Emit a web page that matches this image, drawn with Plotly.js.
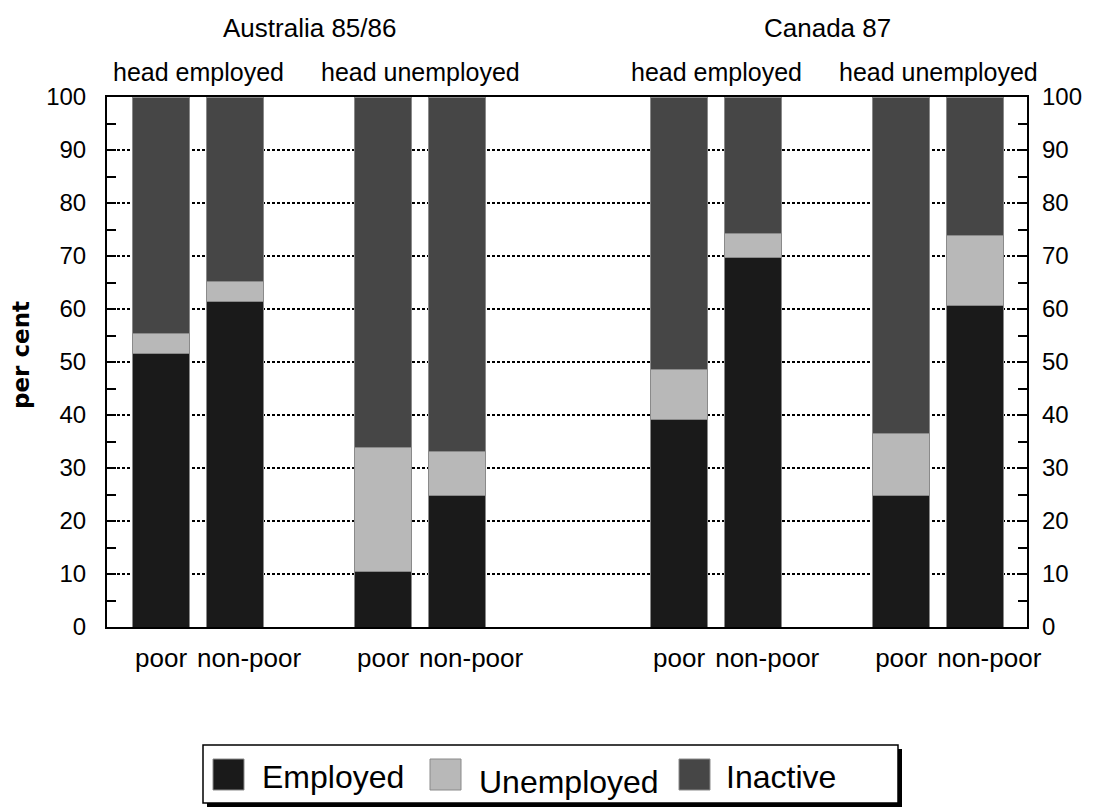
<!DOCTYPE html>
<html>
<head>
<meta charset="utf-8">
<script src="https://cdn.plot.ly/plotly-3.0.1.min.js"></script>
<style>html,body{margin:0;padding:0;background:#fff;}#chart{width:1094px;height:809px;}</style>
</head>
<body>
<div id="chart"></div>
<script>
// ---- data ----
const countries = ["Australia 85/86", "Canada 87"];
const headStatus = ["head employed", "head unemployed"];
const povertyStatus = ["poor", "non-poor"];
const seriesNames = ["Employed", "Unemployed", "Inactive"];
// order: country -> head status -> poverty status
const employed   = [51.6, 61.5, 10.5, 24.8, 39.2, 69.7, 24.8, 60.6];
const unemployed = [3.8, 3.7, 23.4, 8.4, 9.4, 4.6, 11.7, 13.3];
const inactive   = [44.6, 34.8, 66.1, 66.8, 51.4, 25.7, 63.5, 26.1];
const yTicks = [0, 10, 20, 30, 40, 50, 60, 70, 80, 90, 100];

// ---- layout helpers ----
const W = 1094, H = 809;
const M = {l: 107, r: 67, t: 97, b: 182};
const PW = W - M.l - M.r, PH = H - M.t - M.b;
const px = v => (v - M.l) / PW;
const py = v => (H - M.b - v) / PH;
const colors = ["#1a1a1a", "#b8b8b8", "#464646"];
const FONT = "Liberation Sans, Arial, sans-serif";

const xs = [], tickPos = [], tickText = [];
countries.forEach((c, ci) => headStatus.forEach((h, hi) => povertyStatus.forEach((p, pi) => {
  const slot = ci * 7 + hi * 3 + pi;
  xs.push(slot);
  tickPos.push(slot + (pi === 1 ? 0.19 : 0));
  tickText.push(p);
})));

const values = [employed, unemployed, inactive];
const traces = values.map((vals, i) => ({
  type: "bar", x: xs, y: vals, name: seriesNames[i],
  width: 0.77, showlegend: false,
  marker: {color: colors[i], line: {color: "#8a8a8a", width: 1}},
  hoverinfo: "y+name"
}));
traces.push({type: "scatter", x: [null], y: [null], yaxis: "y2", showlegend: false, hoverinfo: "skip"});

const annotations = [];
countries.forEach((c, ci) => {
  annotations.push({text: c, xref: "x", yref: "paper", x: ci * 7 + 2, y: py(28),
    showarrow: false, xanchor: "center", yanchor: "middle", font: {size: 26, color: "#000", family: FONT}});
  headStatus.forEach((h, hi) => {
    annotations.push({text: h, xref: "x", yref: "paper", x: ci * 7 + hi * 3 + 0.5, y: py(72),
      showarrow: false, xanchor: "center", yanchor: "middle", font: {size: 25, color: "#000", family: FONT}});
  });
});
annotations.push({text: "<b>per cent</b>", xref: "paper", yref: "paper", x: px(21), y: py(355),
  textangle: -90, showarrow: false, xanchor: "center", yanchor: "middle",
  font: {size: 23, color: "#000", family: "DejaVu Sans, sans-serif"}});

// manual legend
const shapes = [];
shapes.push({type: "rect", xref: "paper", yref: "paper", x0: px(207), x1: px(902), y0: py(749), y1: py(807),
  fillcolor: "#000", line: {width: 0}});
shapes.push({type: "rect", xref: "paper", yref: "paper", x0: px(203), x1: px(898), y0: py(745), y1: py(803),
  fillcolor: "#fff", line: {color: "#000", width: 1.5}});
const legSq = [213, 430, 679], legTx = [260, 477, 724], legTy = [777, 782, 777];
seriesNames.forEach((n, i) => {
  shapes.push({type: "rect", xref: "paper", yref: "paper", x0: px(legSq[i]), x1: px(legSq[i] + 31),
    y0: py(759), y1: py(790), fillcolor: colors[i], line: {color: "#8a8a8a", width: 1}});
  annotations.push({text: n, xref: "paper", yref: "paper", x: px(legTx[i]), y: py(legTy[i]),
    showarrow: false, xanchor: "left", yanchor: "middle", font: {size: 32, color: "#000", family: FONT}});
});

const yCommon = {
  range: [0, 100], tickvals: yTicks, ticktext: yTicks.map(String),
  tickfont: {size: 24, color: "#000", family: FONT}, fixedrange: true
};

const layout = {
  width: W, height: H, margin: M,
  paper_bgcolor: "#fff", plot_bgcolor: "#fff",
  barmode: "stack", showlegend: false,
  font: {family: FONT, color: "#000"},
  xaxis: {
    range: [-0.73, 11.7], tickvals: tickPos, ticktext: tickText, tickangle: 0,
    tickfont: {size: 26, color: "#000", family: FONT},
    ticks: "", showgrid: false, zeroline: false,
    showline: true, linecolor: "#000", linewidth: 2, mirror: true,
    ticklabelstandoff: 7
  },
  yaxis: Object.assign({}, yCommon, {
    showgrid: true, gridcolor: "#000", gridwidth: 2, griddash: "3px,2px",
    zeroline: false, showline: true, linecolor: "#000", linewidth: 2, mirror: "ticks",
    ticks: "inside", ticklen: 9, tickwidth: 2, tickcolor: "#000",
    minor: {tickvals: [5, 15, 25, 35, 45, 55, 65, 75, 85, 95], ticks: "inside", ticklen: 9, tickwidth: 2, tickcolor: "#000", showgrid: false},
    ticklabelstandoff: 14
  }),
  yaxis2: Object.assign({}, yCommon, {
    overlaying: "y", side: "right", showgrid: false, zeroline: false, ticks: "", showline: false,
    ticklabelstandoff: 14
  }),
  annotations: annotations,
  shapes: shapes
};

Plotly.newPlot("chart", traces, layout, {displayModeBar: false, staticPlot: true});
</script>
</body>
</html>
